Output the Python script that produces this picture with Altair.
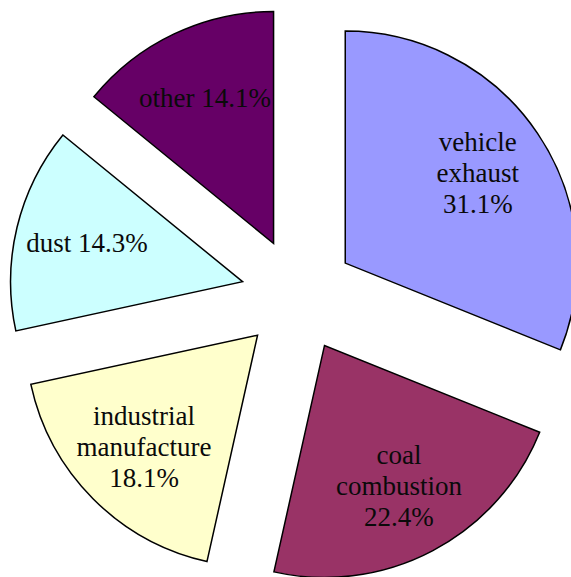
import altair as alt
import pandas as pd

# data
categories = ["vehicle exhaust", "coal combustion", "industrial manufacture", "dust", "other"]
shares = [31.1, 22.4, 18.1, 14.3, 14.1]
label_lines = [["vehicle", "exhaust", "31.1%"], ["coal", "combustion", "22.4%"],
               ["industrial", "manufacture", "18.1%"], ["dust 14.3%"], ["other 14.1%"]]
colors = ["#9999FF", "#993366", "#FFFFCC", "#CCFFFF", "#660066"]

df = pd.DataFrame({
    "category": categories,
    "share": shares,
    "label": label_lines,
    "order": list(range(len(categories))),
})

# layout / style
W, H = 571, 577
CX, CY = 298, 295      # pie centre in pixels
EXPLODE = 57           # explode distance in pixels
R = 232                # outer radius
LABEL_R = 160          # label distance from the slice apex
LH = 31                # label line height

xs = alt.Scale(domain=[-1, 1], range=[CX - EXPLODE, CX + EXPLODE])
ys = alt.Scale(domain=[-1, 1], range=[CY - EXPLODE, CY + EXPLODE])
ts = alt.Scale(domain=[0, 100], range=[0, 6.283185307179586], zero=False, nice=False)

base = alt.Chart(df).transform_window(
    cum="sum(share)", sort=[{"field": "order"}]
).transform_calculate(
    start="datum.cum - datum.share",
    end="datum.cum",
    mid="datum.cum - datum.share / 2",
    nlines="length(datum.label)",
).transform_calculate(
    ex="sin(datum.mid / 100 * 2 * PI)",
    ey="-cos(datum.mid / 100 * 2 * PI)",
)

arcs = base.mark_arc(outerRadius=R, innerRadius=0, stroke="#000000", strokeWidth=1.5).encode(
    x=alt.X("ex:Q", scale=xs, axis=None),
    y=alt.Y("ey:Q", scale=ys, axis=None),
    theta=alt.Theta("start:Q", scale=ts, stack=None),
    theta2="end:Q",
    color=alt.Color("category:N", scale=alt.Scale(domain=categories, range=colors), legend=None),
)

text_enc = dict(
    x=alt.X("ex:Q", scale=xs, axis=None),
    y=alt.Y("ey:Q", scale=ys, axis=None),
    theta=alt.Theta("mid:Q", scale=ts, stack=None),
    text="label:N",
)
text_style = dict(
    radius=LABEL_R, font="Liberation Serif", fontSize=27, lineHeight=LH,
    align="center", baseline="middle", color="#0a0a0a",
)

texts_multi = base.transform_filter("datum.nlines > 1").mark_text(
    dy=-LH, **text_style
).encode(**text_enc)

texts_single = base.transform_filter("datum.nlines == 1").mark_text(
    **text_style
).encode(**text_enc)

chart = alt.layer(arcs, texts_multi, texts_single).properties(
    width=W, height=H, padding=0, autosize=alt.AutoSizeParams(type="none"),
    background="white",
).configure_view(stroke=None)

chart.save("out.html", embed_options={"renderer": "svg", "actions": False})
